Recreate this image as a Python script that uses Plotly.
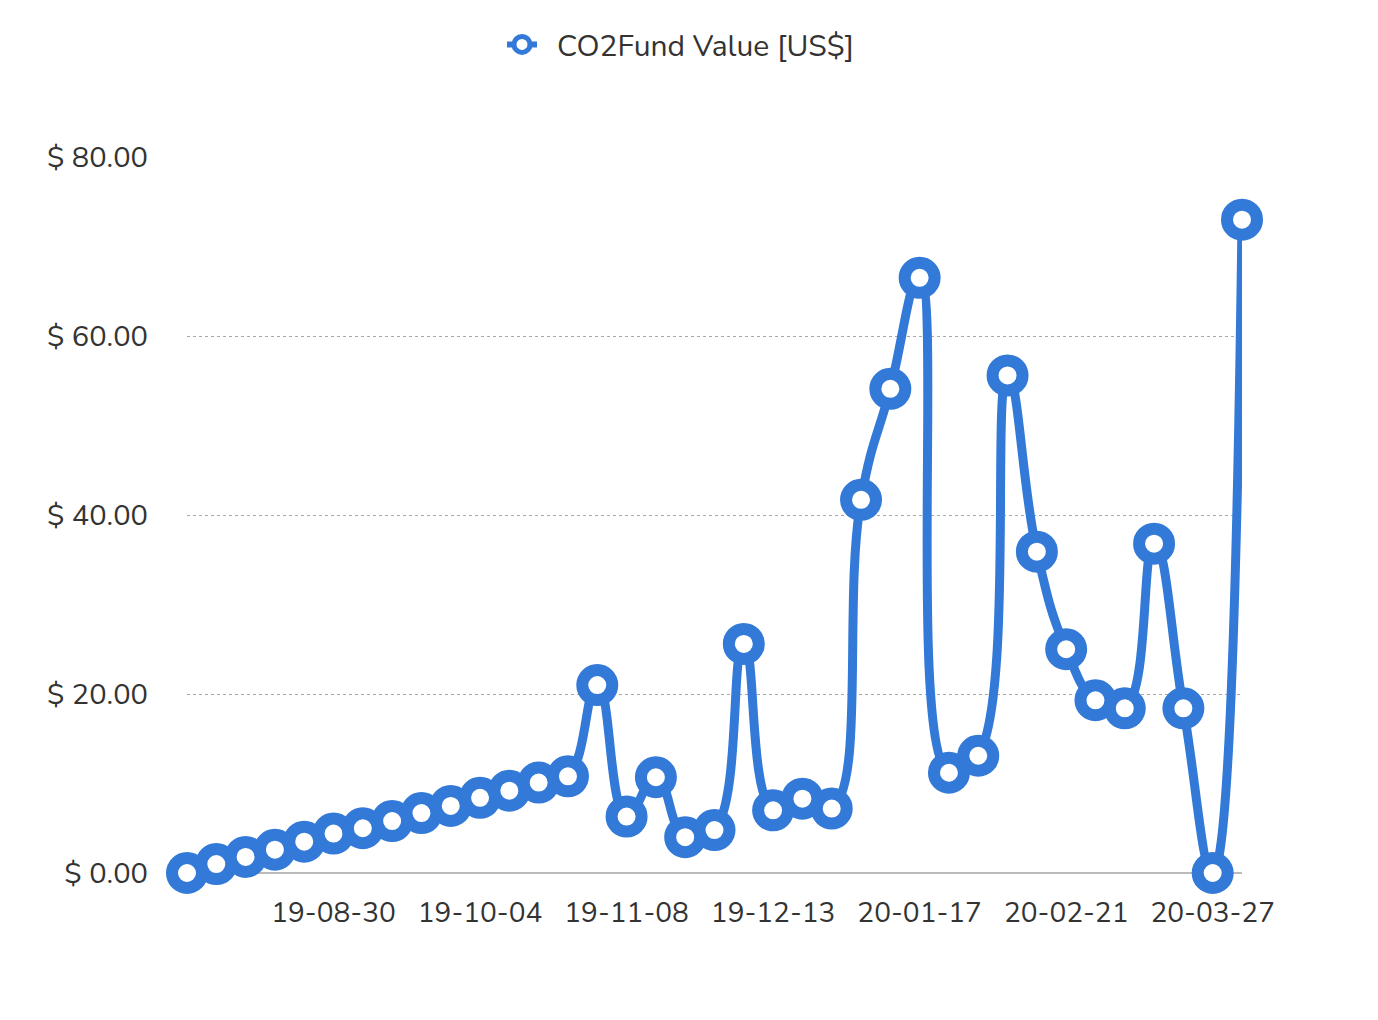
import plotly.graph_objects as go
import pandas as pd

start_date = "2019-07-26"
n_weeks = 37
dates = pd.date_range(start_date, periods=n_weeks, freq="7D")

values = [0.0, 1.0, 1.8, 2.6, 3.5, 4.4, 5.0, 5.8, 6.7, 7.5,
          8.4, 9.2, 10.1, 10.8, 21.0, 6.3, 10.7, 4.0, 4.8, 25.6,
          7.0, 8.3, 7.2, 41.7, 54.1, 66.5, 11.2, 13.1, 55.6, 35.9,
          25.0, 19.3, 18.4, 36.8, 18.4, 0.0, 73.0]

series_name = "CO2Fund Value [US$]"
tick_dates = ["2019-08-30", "2019-10-04", "2019-11-08", "2019-12-13",
              "2020-01-17", "2020-02-21", "2020-03-27"]
tick_labels = ["19-08-30", "19-10-04", "19-11-08", "19-12-13",
               "20-01-17", "20-02-21", "20-03-27"]
y_ticks = [0, 20, 40, 60, 80]
y_tick_labels = ["$ 0.00", "$ 20.00", "$ 40.00", "$ 60.00", "$ 80.00"]

blue = "#3279d8"
font_family = "Nunito, 'Open Sans', Lato, sans-serif"

fig = go.Figure()
fig.add_trace(go.Scatter(
    x=dates, y=values, mode="lines+markers", name=series_name,
    line=dict(color=blue, width=9, shape="spline", smoothing=1.3),
    marker=dict(size=30, color="white", line=dict(color=blue, width=12)),
    cliponaxis=False, showlegend=False,
))
# legend entry (en-space keeps the gap between the symbol and the label)
fig.add_trace(go.Scatter(
    x=[None], y=[None], mode="lines+markers", name="\u2002" + series_name,
    line=dict(color=blue, width=6),
    marker=dict(size=18, color="white", line=dict(color=blue, width=8)),
))

fig.update_layout(
    width=1370, height=1012,
    margin=dict(l=179, r=136, t=149, b=147),
    paper_bgcolor="white", plot_bgcolor="white",
    font=dict(family=font_family, size=28, color="#333333"),
    showlegend=True,
    legend=dict(orientation="h", xref="container", x=(502 - 8) / 1370, xanchor="left",
                y=0.964, yanchor="middle", yref="container",
                font=dict(size=30, color="#333333"), itemwidth=30),
    xaxis=dict(
        range=[dates[0], dates[-1]],
        tickmode="array", tickvals=tick_dates, ticktext=tick_labels,
        showgrid=False, zeroline=False, showline=False,
        ticks="", ticklabelstandoff=20, tickfont=dict(size=28, color="#333333"),
    ),
    yaxis=dict(
        range=[0, 80], tickmode="array", tickvals=y_ticks, ticktext=y_tick_labels,
        showgrid=True, gridcolor="#a8a8a8", griddash="dot", gridwidth=1.3,
        zeroline=True, zerolinecolor="#bbbbbb", zerolinewidth=2,
        ticks="", ticklabelstandoff=38, tickfont=dict(size=29, color="#333333"),
    ),
)

fig.write_html("out.html")
